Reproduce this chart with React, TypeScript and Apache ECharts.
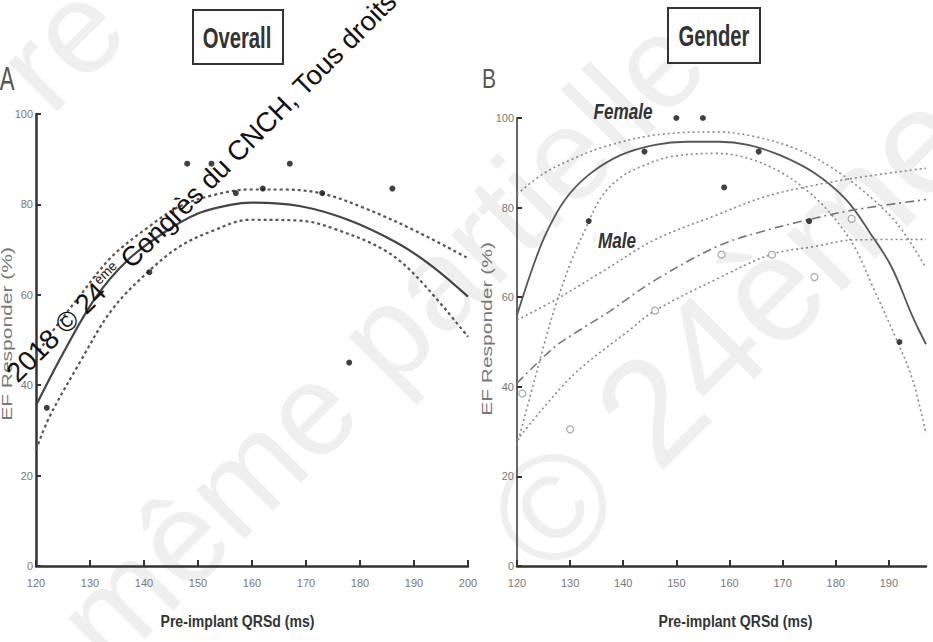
import React, { useEffect, useRef } from "react";
import * as echarts from "echarts";

// ---------- Panel A: Overall ----------
const overallPtsX = [122, 141, 148, 152.5, 157, 162, 167, 173, 178, 186];
const overallPtsY = [35, 65, 89, 89, 82.5, 83.5, 89, 82.5, 45, 83.5];

const overallFitX = [120, 125, 131, 137, 144, 150, 156, 160, 169, 178, 187, 193.5, 200];
const overallFitY = [35.5, 47, 59.3, 67.7, 74, 78, 79.9, 80.4, 79.6, 76.5, 71.4, 66.2, 59.6];

const overallUpX = [120, 123, 128, 134, 140.5, 146.5, 153, 159.5, 165.5, 173, 181, 190.5, 200];
const overallUpY = [46.5, 51.8, 59.6, 68.4, 74.7, 79.5, 82.1, 83.3, 83.3, 82.4, 79.1, 74, 68.1];

const overallLoX = [120, 122.5, 128, 134, 140.5, 146.5, 153, 159.5, 169, 175, 184.5, 190.5, 200];
const overallLoY = [25.7, 33, 44.8, 56.6, 64.8, 70.6, 74.3, 76.6, 76.4, 74.7, 69.9, 64, 50.7];

// ---------- Panel B: Gender ----------
const femalePtsX = [133.5, 144, 150, 155, 159, 165.5, 175, 192];
const femalePtsY = [77, 92.5, 100, 100, 84.5, 92.5, 77, 50];
const malePtsX = [121, 130, 146, 158.5, 168, 176, 183];
const malePtsY = [38.5, 30.5, 57, 69.5, 69.5, 64.5, 77.5];

const femaleFitX = [120, 123, 125.5, 129, 133.5, 139.5, 146, 152, 158, 163.5, 169.5, 176, 182, 186.5, 190.5, 194.5, 197];
const femaleFitY = [56, 66.8, 74.3, 81.7, 87.3, 91.7, 94, 94.7, 94.7, 94, 91.7, 87.7, 81.7, 74.3, 66.8, 55.6, 49.5];

const femaleUpX = [120, 125, 130, 136.5, 146, 157.5, 165, 173, 179, 185, 191.5, 197];
const femaleUpY = [83, 87.6, 90.6, 93.6, 96.2, 96.9, 95.8, 92.9, 89.1, 83.9, 76.5, 66.5];

const femaleLoX = [120, 122.5, 125, 127.2, 130.3, 132.8, 135.9, 139.7, 144.1, 149.1, 157.5, 163.5, 169.5, 174.5, 179, 183.5, 187, 191.5, 194.5, 197];
const femaleLoY = [27, 38, 49, 57.9, 68.3, 75, 82.4, 86.9, 89.5, 91.4, 92.1, 91, 88, 83.9, 78.7, 71.3, 62.3, 50.4, 41.5, 29.5];

const maleFitX = [120, 127, 132, 137, 146, 158, 166.5, 174.5, 183.5, 197];
const maleFitY = [40.8, 48.8, 52.8, 56.5, 63.8, 71.5, 74.8, 77.2, 79.5, 81.8];

const maleUpX = [120, 127.2, 136.6, 145.9, 157.5, 166.6, 176, 185.3, 197];
const maleUpY = [54.9, 59.4, 66.1, 72.8, 78.3, 82.4, 85, 86.9, 88.8];

const maleLoX = [120, 130.3, 141, 146, 157.5, 168, 176, 183.5, 197];
const maleLoY = [28.1, 42.3, 52.5, 57, 64, 69.6, 71.3, 72.8, 72.9];

const xTicksA = [120, 130, 140, 150, 160, 170, 180, 190, 200];
const xTicksB = [120, 130, 140, 150, 160, 170, 180, 190];

const xName = "Pre-implant QRSd (ms)";
const yName = "EF Responder (%)";
const panelTitles = ["Overall", "Gender"];
const panelLetters = ["A", "B"];
const groupNames = ["Female", "Male"];

const SANS = '"Liberation Sans", Arial, sans-serif';

const zip = (xs: number[], ys: number[]) => xs.map((x, i) => [x, ys[i]]);

function xAxisCfg(grid: number, min: number, max: number, ticks: number[]) {
  return {
    type: "value",
    gridIndex: grid,
    min,
    max,
    interval: 10,
    axisLine: { show: true, onZero: false, lineStyle: { color: "#333", width: 2.5 } },
    axisTick: { show: true, inside: true, length: 6, customValues: ticks, lineStyle: { color: "#333", width: 2 } },
    axisLabel: { show: true, customValues: ticks, color: "#777", fontSize: 11, fontFamily: SANS, margin: 11 },
    splitLine: { show: false },
  };
}

function yAxisCfg(grid: number, lineColor: string, lineWidth: number) {
  return {
    type: "value",
    gridIndex: grid,
    min: 0,
    max: 100,
    interval: 20,
    axisLine: { show: true, onZero: false, lineStyle: { color: lineColor, width: lineWidth } },
    axisTick: { show: true, inside: true, length: 5, lineStyle: { color: "#333", width: 2 } },
    axisLabel: { show: true, color: "#777", fontSize: 11, fontFamily: SANS, margin: 3 },
    splitLine: { show: false },
  };
}

function curve(grid: number, xs: number[], ys: number[], color: string, width: number, type: any) {
  return {
    type: "line",
    xAxisIndex: grid,
    yAxisIndex: grid,
    data: zip(xs, ys),
    showSymbol: false,
    smooth: 0.35,
    silent: true,
    lineStyle: { color, width, type },
    z: 3,
  };
}

function label(text: string, x: number, y: number, font: string, fill: string, sx: number, sy: number, rotation = 0, z = 11) {
  return {
    type: "text",
    z,
    x,
    y,
    scaleX: sx,
    scaleY: sy,
    rotation,
    style: { text, font, fill, textAlign: "center", textVerticalAlign: "middle" },
  };
}

export default function App() {
  const ref = useRef<HTMLDivElement>(null);
  useEffect(() => {
    document.body.style.margin = "0";
    const chart = echarts.init(ref.current!, undefined, { renderer: "svg", width: 933, height: 642 });
    const option: any = {
      animation: false,
      backgroundColor: "#ffffff",
      grid: [
        { left: 36, top: 114, width: 432, height: 452 },
        { left: 517, top: 118, width: 409, height: 448 },
      ],
      xAxis: [xAxisCfg(0, 120, 200, xTicksA), xAxisCfg(1, 120, 197, xTicksB)],
      yAxis: [yAxisCfg(0, "#333", 2.5), yAxisCfg(1, "#555", 1.8)],
      series: [
        curve(0, overallFitX, overallFitY, "#444", 2.2, "solid"),
        curve(0, overallUpX, overallUpY, "#555", 2.2, [3, 3]),
        curve(0, overallLoX, overallLoY, "#555", 2.2, [3, 3]),
        {
          type: "scatter",
          xAxisIndex: 0,
          yAxisIndex: 0,
          data: zip(overallPtsX, overallPtsY),
          symbolSize: 6,
          itemStyle: { color: "#111" },
          z: 5,
        },
        curve(1, femaleFitX, femaleFitY, "#555", 1.8, "solid"),
        curve(1, femaleUpX, femaleUpY, "#888", 1.6, [2, 3]),
        curve(1, femaleLoX, femaleLoY, "#888", 1.6, [2, 3]),
        curve(1, maleFitX, maleFitY, "#777", 1.6, [9, 4, 2, 4]),
        curve(1, maleUpX, maleUpY, "#888", 1.6, [2, 3]),
        curve(1, maleLoX, maleLoY, "#888", 1.6, [2, 3]),
        {
          type: "scatter",
          xAxisIndex: 1,
          yAxisIndex: 1,
          data: zip(femalePtsX, femalePtsY),
          symbolSize: 6,
          itemStyle: { color: "#111" },
          z: 5,
        },
        {
          type: "scatter",
          xAxisIndex: 1,
          yAxisIndex: 1,
          data: zip(malePtsX, malePtsY),
          symbolSize: 7,
          itemStyle: { color: "#fff", borderColor: "#999", borderWidth: 1.3 },
          z: 5,
        },
      ],
      graphic: [
        // faint background watermark
        label("re", 60, 45, `130px ${SANS}`, "#efefef", 1, 1, Math.PI / 4, 0),
        label("même partielle", 380, 340, `130px ${SANS}`, "#efefef", 1, 1, Math.PI / 4, 0),
        label("© 24ème", 730, 330, `150px ${SANS}`, "#efefef", 1, 1, Math.PI / 4, 0),
        // title boxes
        { type: "rect", z: 10, shape: { x: 193, y: 10, width: 90, height: 54 }, style: { fill: "#fff", stroke: "#333", lineWidth: 2 } },
        label(panelTitles[0], 237, 38, `bold 26px ${SANS}`, "#333", 0.78, 1.1),
        { type: "rect", z: 10, shape: { x: 668, y: 8, width: 92, height: 55 }, style: { fill: "#fff", stroke: "#333", lineWidth: 2 } },
        label(panelTitles[1], 714, 36, `bold 26px ${SANS}`, "#333", 0.78, 1.1),
        // panel letters
        label(panelLetters[0], 7, 78, `26px ${SANS}`, "#555", 0.85, 1.3),
        label(panelLetters[1], 489, 78, `24px ${SANS}`, "#555", 0.88, 1.18),
        // group labels
        label(groupNames[0], 623, 111, `italic bold 19px ${SANS}`, "#333", 0.9, 1.15),
        label(groupNames[1], 617, 240, `italic bold 19px ${SANS}`, "#333", 0.9, 1.15),
        // axis names
        label(xName, 237.5, 621, `bold 16px ${SANS}`, "#333", 0.88, 1.05),
        label(xName, 735.5, 621, `bold 16px ${SANS}`, "#333", 0.88, 1.05),
        label(yName, 7, 334, `14px ${SANS}`, "#777", 1.5, 1, Math.PI / 2),
        label(yName, 487, 329, `14px ${SANS}`, "#777", 1.5, 1, Math.PI / 2),
        // dark watermark
        {
          type: "text",
          z: 100,
          x: 21,
          y: 387,
          rotation: Math.PI / 4,
          style: {
            text: "2018 © 24{sup|ème} Congrès du CNCH, Tous droits réservés",
            font: `27.5px ${SANS}`,
            fill: "#111",
            textAlign: "left",
            textVerticalAlign: "bottom",
            rich: { sup: { fontSize: 13.5, verticalAlign: "top", fill: "#111", fontFamily: SANS } },
          },
        },
      ],
    };
    chart.setOption(option);
    return () => chart.dispose();
  }, []);
  return <div ref={ref} style={{ width: 933, height: 642 }} />;
}
